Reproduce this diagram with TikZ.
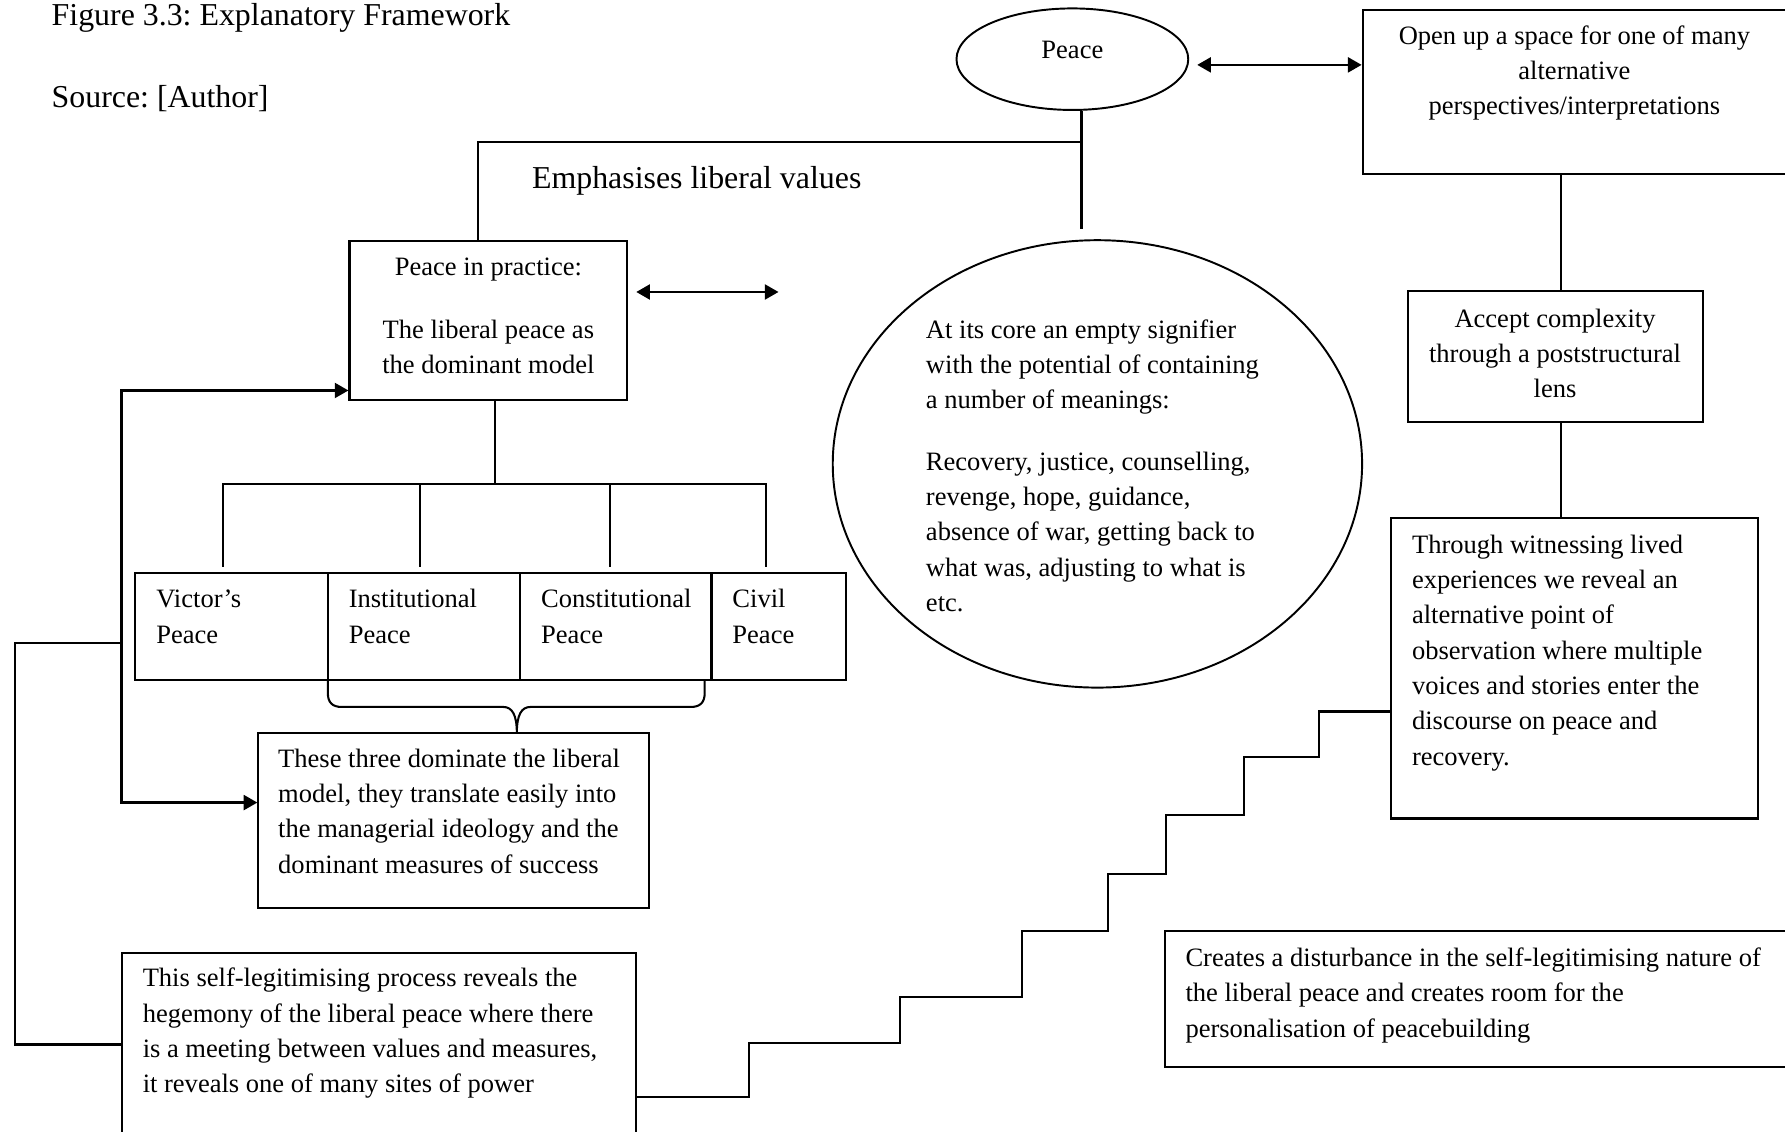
\documentclass[tikz,border=0pt]{standalone}
\usepackage{fontspec}
\setmainfont{Liberation Serif}
\usetikzlibrary{shapes.geometric,fit,arrows.meta}
\frenchspacing

\tikzset{
  frame/.style={draw, line width=0.9pt, inner sep=0pt},
  oval/.style={draw, ellipse, line width=0.85pt, inner sep=0pt},
  txt/.style={inner sep=0pt, font=\fontsize{11.65}{15.5}\selectfont},
  bigtxt/.style={inner sep=0pt, font=\fontsize{14}{17}\selectfont},
  link/.style={line width=0.9pt},
  feed/.style={line width=1.2pt, -{Triangle[length=6pt,width=6.5pt]}},
  dbl/.style={line width=1.2pt, {Triangle[length=6pt,width=6.5pt]}-{Triangle[length=6pt,width=6.5pt]}},
}

\begin{document}
\begin{tikzpicture}[x=0.5pt, y=-0.5pt]
\useasboundingbox (0,0) rectangle (1568,994);

% headings
\node[bigtxt, anchor=base west] (fig) at (45,22) {Figure 3.3: Explanatory Framework};
\node[bigtxt, anchor=base west] (src) at (45,94) {Source: [Author]};
\node[bigtxt, anchor=base west] (emph) at (467,166) {Emphasises liberal values};

% the two ovals (text nodes sit on the baseline of their last line)
\node[oval, minimum width=101.8pt, minimum height=44.6pt] (peace) at (942,52) {};
\node[txt, anchor=base] (peace-t) at (942,51) {Peace};
\node[oval, minimum width=232.5pt, minimum height=196.5pt] (core) at (964,407.5) {};
\node[txt, anchor=base west, align=left] (core-t) at (813,537) {At its core an empty signifier\\ with the potential of containing\\ a number of meanings:\\[11.5pt] Recovery, justice, counselling,\\ revenge, hope, guidance,\\ absence of war, getting back to\\ what was, adjusting to what is\\ etc.};

% left column
\node[frame, fit={(307,212) (551,351)}] (prac) {};
\node[txt, anchor=base, align=center] (prac-t) at (429,328) {Peace in practice:\\[12pt] The liberal peace as\\ the dominant model};
\foreach \name/\xa/\xb/\first in {vict/119/288/Victor’s, inst/288/457/Institutional, cons/457/625/Constitutional, civ/625/743/Civil}{
  \node[frame, fit={(\xa,503) (\xb,597)}] (\name) {};
  \node[txt, anchor=base west, align=left] (\name-t) at (\xa+18,565) {\first\\ Peace};
}
\node[frame, fit={(227,644) (570,798)}] (three) {};
\node[txt, anchor=base west, align=left] (three-t) at (244,767) {These three dominate the liberal\\ model, they translate easily into\\ the managerial ideology and the\\ dominant measures of success};
\node[frame, fit={(107,837) (559,998)}] (self) {};
\node[txt, anchor=base west, align=left] (self-t) at (125,960) {This self-legitimising process reveals the\\ hegemony of the liberal peace where there\\ is a meeting between values and measures,\\ it reveals one of many sites of power};

% right column
\node[frame, fit={(1197,9) (1571,153)}] (open) {};
\node[txt, anchor=base, align=center] (open-t) at (1383,101) {Open up a space for one of many\\ alternative\\ perspectives/interpretations};
\node[frame, fit={(1237,256) (1496,371)}] (acc) {};
\node[txt, anchor=base, align=center] (acc-t) at (1366,349.5) {Accept complexity\\ through a poststructural\\ lens};
\node[frame, fit={(1222,455) (1544,719)}] (wit) {};
\node[txt, anchor=base west, align=left] (wit-t) at (1240,672) {Through witnessing lived\\ experiences we reveal an\\ alternative point of\\ observation where multiple\\ voices and stories enter the\\ discourse on peace and\\ recovery.};
\node[frame, fit={(1023,818) (1571,937)}] (dist) {};
\node[txt, anchor=base west, align=left] (dist-t) at (1041,911) {Creates a disturbance in the self-legitimising nature of\\ the liberal peace and creates room for the\\ personalisation of peacebuilding};

% connectors
\coordinate (branch) at (950,125);
\coordinate (stemend) at (950,201);
\coordinate (fork) at (435,425);
\coordinate (outer) at (13,565);
\coordinate (spine) at (107,565);
\draw[link] ([xshift=4pt]peace.south) -- (stemend);
\draw[link] (branch) -| ([xshift=-4.5pt]prac.north);
\draw[dbl] ([shift={(3.5pt,-2.5pt)}]peace.east) -- ([yshift=-2.5pt]peace.east -| open.west);
\draw[dbl] ([shift={(3.5pt,12.5pt)}]prac.east) -- ++(125,0);
\draw[link] ([xshift=3pt]prac.south) -- (fork);
\foreach \name/\x in {vict/196, inst/369, cons/536, civ/673}
  \draw[link] (fork) -| ([yshift=1.8pt]\name.north -| \x,0);
\draw[link] (288,597) -- (288,609) .. controls (288,617) and (292,621) .. (300,621) -- (442,621)
  .. controls (450,621) and (454,628) .. (454,644) .. controls (454,628) and (458,621) .. (466,621)
  -- (607,621) .. controls (615,621) and (619,617) .. (619,609) -- (619,597);
\draw[link] (self.west) -| (outer) -- (spine);
\draw[feed] (spine) |- ([yshift=-30.75pt]prac.west);
\draw[feed] (spine) |- ([yshift=8pt]three.west);
\draw[link] ([xshift=2.25pt]acc.north) -- ([xshift=2.25pt]acc.north |- open.south);
\draw[link] ([xshift=2.25pt]acc.south) -- ([xshift=2.25pt]acc.south |- wit.north);
\draw[link] ([yshift=-23.25pt]self.east) -- ++(98,0)
  foreach \dx/\dy in {133/-48, 107/-40, 75/-58, 51/-50, 69/-52, 66/-51, 64/-40} { |- ++(\dx,\dy) };
\end{tikzpicture}
\end{document}
